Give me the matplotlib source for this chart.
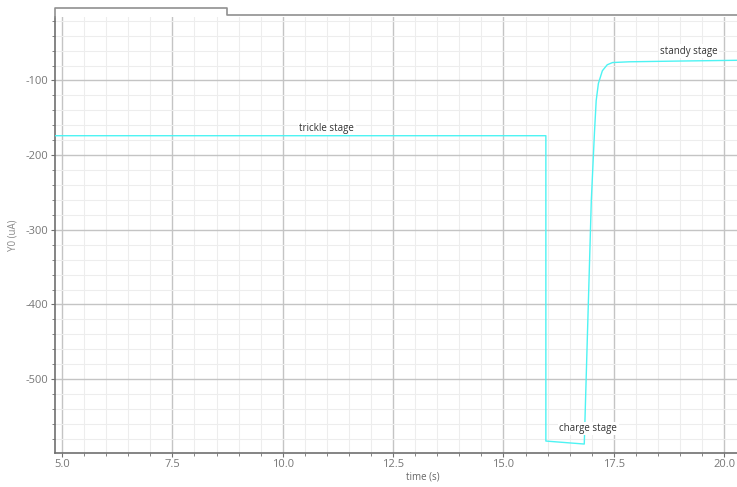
import numpy as np
import matplotlib
matplotlib.use("Agg")
import matplotlib.pyplot as plt
from matplotlib.lines import Line2D
from matplotlib.ticker import MultipleLocator, FormatStrFormatter

plt.rcParams['font.family'] = ['Open Sans', 'DejaVu Sans']
plt.rcParams['axes.unicode_minus'] = False

# waveform (time in s, current in uA)
time_s = [4.84, 15.96, 15.96, 16.83, 16.99, 17.06, 17.10, 17.15, 17.24,
          17.35, 17.47, 17.85, 18.98, 20.29]
y0_ua = [-174, -174, -583, -587, -260, -171, -127, -104, -87,
         -79, -76, -75, -74, -73]

stage_labels = ["trickle stage", "charge stage", "standy stage"]
stage_pos = [(11.0, -164), (16.92, -566), (19.2, -61)]

W, H = 737, 487
fig = plt.figure(figsize=(W / 100, H / 100), dpi=100)
ax = fig.add_axes([55 / W, (H - 453) / H, (W - 55) / W, (453 - 17) / H])

ax.plot(time_s, y0_ua, color="#4df3f3", lw=1.0, zorder=3)

ax.set_xlim(4.84, 20.29)
ax.set_ylim(-599, -15)
ax.xaxis.set_major_locator(MultipleLocator(2.5))
ax.xaxis.set_minor_locator(MultipleLocator(0.5))
ax.yaxis.set_major_locator(MultipleLocator(100))
ax.yaxis.set_minor_locator(MultipleLocator(20))
ax.xaxis.set_major_formatter(FormatStrFormatter("%.1f"))

ax.grid(which="major", color="#c4c4c4", lw=1.0)
ax.grid(which="minor", color="#ededed", lw=0.8)
ax.set_axisbelow(True)

for s in ["top", "right"]:
    ax.spines[s].set_visible(False)
for s in ["left", "bottom"]:
    ax.spines[s].set_color("#707070")
    ax.spines[s].set_linewidth(1.2)

ax.tick_params(which="both", colors="#707070", labelcolor="#777777",
               labelsize=8, direction="out", pad=1.5)
ax.tick_params(which="major", length=3)
ax.tick_params(which="minor", length=2)

ax.set_xlabel("time (s)", fontsize=7, color="#666666")
ax.set_ylabel("Y0 (uA)", fontsize=7, color="#888888")
ax.xaxis.set_label_coords(0.54, -0.042)
ax.yaxis.set_label_coords(-0.054, 0.5)

for lab, (x, y) in zip(stage_labels, stage_pos):
    ax.text(x, y, lab, fontsize=7, color="#333333", ha="center", va="center",
            bbox=dict(facecolor="white", edgecolor="none", pad=1), zorder=4)

# tab outline on top of the plot area
def fx(px):
    return px / W

def fy(py):
    return (H - py) / H

fig.add_artist(Line2D([fx(55), fx(55), fx(227), fx(227), fx(737)],
                      [fy(17), fy(8), fy(8), fy(15), fy(15)],
                      color="#909090", lw=1.2))

fig.savefig("out.png", dpi=100)
